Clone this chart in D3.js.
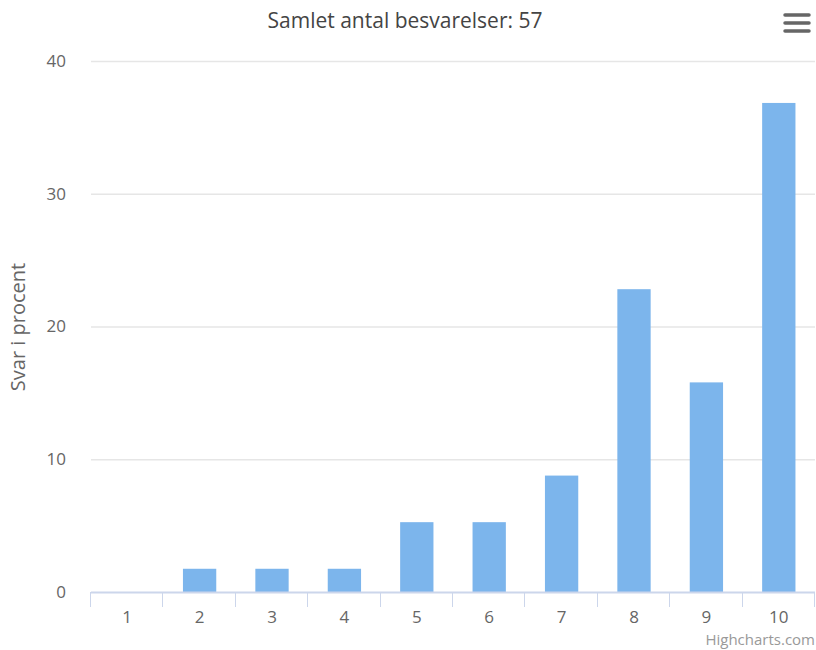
<!DOCTYPE html>
<html><head><meta charset="utf-8">
<script src="https://cdnjs.cloudflare.com/ajax/libs/d3/7.8.5/d3.min.js"></script>
<style>body{margin:0;background:#fff}svg{display:block;font-family:"Open Sans",sans-serif}</style>
</head><body><svg id="c" width="816" height="650"></svg>
<script>
const categories = ["1","2","3","4","5","6","7","8","9","10"];
const values = [0, 1.75, 1.75, 1.75, 5.26, 5.26, 8.77, 22.81, 15.79, 36.84];
const yTicks = [0, 10, 20, 30, 40];
const titleText = "Samlet antal besvarelser: 57";
const yTitle = "Svar i procent";

const svg = d3.select("#c");
const L = 91, R = 815, T = 61, B = 592;
const x = d3.scaleBand().domain(categories).range([L, R]);
const y = d3.scaleLinear().domain([0, 40]).range([B, T]);

// grid
svg.append("g").selectAll("line").data(yTicks.filter(d => d > 0)).join("line")
  .attr("x1", L).attr("x2", R).attr("y1", d => y(d) + 0.5).attr("y2", d => y(d) + 0.5)
  .attr("stroke", "#e6e6e6").attr("stroke-width", 1.5);

// y labels
svg.append("g").selectAll("text").data(yTicks).join("text")
  .attr("x", 66).attr("y", d => y(d)).attr("dy", "0.35em")
  .attr("text-anchor", "end").attr("fill", "#666").attr("font-size", 17).text(d => d);

// bars
const bw = x.bandwidth() * 0.46;
svg.append("g").selectAll("rect").data(values).join("rect")
  .attr("x", (d, i) => x(categories[i]) + (x.bandwidth() - bw) / 2)
  .attr("width", bw)
  .attr("y", d => y(d)).attr("height", d => B - y(d))
  .attr("fill", "#7cb5ec");

// x axis
const xa = svg.append("g").attr("transform", `translate(0,${B})`)
  .call(d3.axisBottom(x).tickSize(0).tickPadding(0));
xa.select(".domain").remove();
xa.append("line").attr("x1", L).attr("x2", R).attr("y1", 0.5).attr("y2", 0.5).attr("stroke", "#ccd6eb").attr("stroke-width", 2);
xa.selectAll(".tick text").attr("y", 25).attr("dy", "0.35em").attr("fill", "#666").attr("font-size", 17).attr("font-family", "Open Sans, sans-serif");
const bounds = categories.map(c => x(c)).concat([R]);
xa.selectAll(".bnd").data(bounds).join("line").attr("class", "bnd")
  .attr("x1", d => Math.round(d) - 0.5).attr("x2", d => Math.round(d) - 0.5)
  .attr("y1", 0).attr("y2", 15).attr("stroke", "#ccd6eb").attr("stroke-width", 1);

// title
svg.append("text").attr("x", 405).attr("y", 28).attr("text-anchor", "middle")
  .attr("fill", "#444").attr("font-size", 21).text(titleText);

// y title
svg.append("text").attr("transform", "translate(25,327) rotate(-90)").attr("text-anchor", "middle")
  .attr("fill", "#666").attr("font-size", 20).text(yTitle);

// credit
svg.append("text").attr("x", 815).attr("y", 645).attr("text-anchor", "end")
  .attr("fill", "#999").attr("font-size", 15).text("Highcharts.com");

// menu icon
svg.append("g").selectAll("line").data([0, 1, 2]).join("line")
  .attr("x1", 785).attr("x2", 809).attr("y1", d => 15 + d * 8).attr("y2", d => 15 + d * 8)
  .attr("stroke", "#666").attr("stroke-width", 3.5).attr("stroke-linecap", "round");
</script></body></html>
